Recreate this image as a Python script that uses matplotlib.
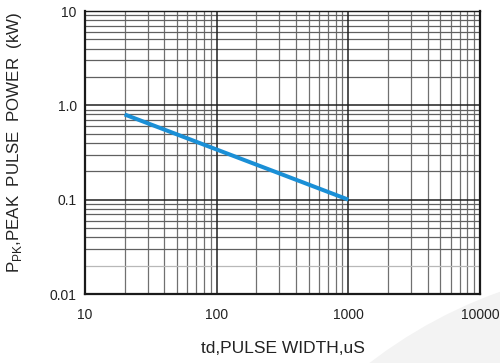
import matplotlib
matplotlib.use("Agg")
import matplotlib.pyplot as plt
import numpy as np
from matplotlib.patches import Circle

plt.rcParams['font.family'] = ['Liberation Sans', 'DejaVu Sans']

# data
pulse_width_us = [20, 1000]
peak_power_kw = [0.8, 0.1]
x_ticks = [10, 100, 1000, 10000]
x_tick_labels = ["10", "100", "1000", "10000"]
y_ticks = [0.01, 0.1, 1.0, 10]
y_tick_labels = ["0.01", "0.1", "1.0", "10"]

W, H = 500, 363
fig = plt.figure(figsize=(W / 100, H / 100), dpi=100)

# faint background watermark arc (in inches from bottom-left)
fig.patches.append(Circle((6.6, (H - 740) / 100), 4.76, transform=fig.dpi_scale_trans,
                          facecolor='#f3f3f3', edgecolor='none', zorder=-1))

ax = fig.add_axes([85 / W, (H - 294) / H, (480 - 85) / W, (294 - 11) / H])
ax.set_zorder(1)
ax.set_xscale('log')
ax.set_yscale('log')
ax.set_xlim(10, 10000)
ax.set_ylim(0.01, 10)

# grid lines
minor_x = [m * 10 ** e for e in range(1, 4) for m in range(2, 10)]
minor_y = [m * 10.0 ** e for e in range(-2, 1) for m in range(2, 10)]
for xv in minor_x:
    ax.axvline(xv, color='#707070', lw=0.9, zorder=1)
for yv in minor_y:
    if abs(yv - 0.02) < 1e-9:
        ax.axhline(yv, color='#b8b8b8', lw=0.9, zorder=1)
    else:
        ax.axhline(yv, color='#606060', lw=0.9, zorder=1)
for xv in x_ticks[1:-1]:
    ax.axvline(xv, color='#202020', lw=1.1, zorder=1)
for yv in y_ticks[1:-1]:
    ax.axhline(yv, color='#202020', lw=1.1, zorder=1)

ax.plot(pulse_width_us, peak_power_kw, color='#1a8fd6', lw=2.9, zorder=3,
        solid_capstyle='butt')

ax.set_xticks(x_ticks)
ax.set_xticklabels(x_tick_labels)
ax.set_yticks(y_ticks)
ax.set_yticklabels(y_tick_labels)
ax.xaxis.set_minor_locator(matplotlib.ticker.NullLocator())
ax.yaxis.set_minor_locator(matplotlib.ticker.NullLocator())
ax.tick_params(axis='both', length=0, labelsize=10, colors='#222222')
ax.tick_params(axis='x', pad=10)
ax.tick_params(axis='y', pad=6)

for s in ax.spines.values():
    s.set_linewidth(1.6)
    s.set_color('#1a1a1a')
ax.spines['top'].set_linewidth(1.0)

ax.set_xlabel('td,PULSE WIDTH,uS', fontsize=12.5, color='#222222', labelpad=14)
fig.text(15 / W, (H - 142) / H, r'P$_{\mathregular{PK}}$,PEAK  PULSE  POWER  (kW)',
         rotation=90, ha='center', va='center', fontsize=12.2, color='#222222')

fig.savefig('out.png', dpi=100)
